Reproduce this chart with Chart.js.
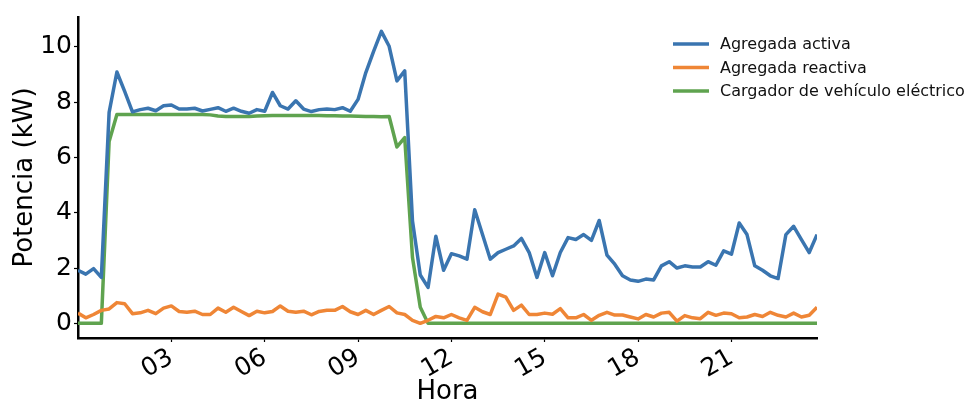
<!DOCTYPE html>
<html>
<head>
<meta charset="utf-8">
<script src="https://cdn.jsdelivr.net/npm/chart.js@4/dist/chart.umd.min.js"></script>
<style>
  html, body { margin: 0; padding: 0; background: #ffffff; }
  #wrap { width: 971px; height: 405px; }
</style>
</head>
<body>
<div id="wrap"><canvas id="c" width="971" height="405"></canvas></div>
<script>
// Hourly load profile at 15-minute resolution (hour of day 0 .. 23.75)
const hours = Array.from({ length: 96 }, (_, i) => i / 4);

const seriesNames = ['Agregada activa', 'Agregada reactiva', 'Cargador de vehículo eléctrico'];

const agregadaActiva = [
  1.92, 1.78, 1.98, 1.66, 7.63, 9.09, 8.39, 7.65, 7.73, 7.78, 7.69, 7.87, 7.90, 7.75, 7.75, 7.78,
  7.68, 7.74, 7.80, 7.67, 7.78, 7.67, 7.60, 7.73, 7.67, 8.35, 7.87, 7.75, 8.05, 7.75, 7.66, 7.73,
  7.75, 7.73, 7.80, 7.67, 8.10, 9.07, 9.84, 10.56, 10.02, 8.77, 9.13, 3.70, 1.75, 1.30, 3.15, 1.92,
  2.52, 2.44, 2.32, 4.11, 3.21, 2.32, 2.56, 2.68, 2.80, 3.07, 2.56, 1.66, 2.56, 1.72, 2.56, 3.10,
  3.03, 3.21, 3.00, 3.72, 2.47, 2.14, 1.72, 1.57, 1.52, 1.60, 1.57, 2.08, 2.23, 2.00, 2.08, 2.04,
  2.04, 2.23, 2.10, 2.62, 2.50, 3.63, 3.21, 2.08, 1.92, 1.72, 1.62, 3.21, 3.51, 3.03, 2.56, 3.21
];

const agregadaReactiva = [
  0.37, 0.20, 0.32, 0.47, 0.52, 0.75, 0.71, 0.35, 0.38, 0.47, 0.35, 0.55, 0.63, 0.43, 0.40, 0.44,
  0.32, 0.32, 0.55, 0.40, 0.58, 0.43, 0.28, 0.44, 0.38, 0.43, 0.63, 0.44, 0.40, 0.44, 0.31, 0.43,
  0.47, 0.47, 0.61, 0.42, 0.32, 0.47, 0.32, 0.47, 0.61, 0.38, 0.32, 0.11, 0.00, 0.11, 0.25, 0.20,
  0.32, 0.20, 0.11, 0.58, 0.42, 0.32, 1.06, 0.95, 0.47, 0.66, 0.32, 0.32, 0.37, 0.33, 0.53, 0.20,
  0.20, 0.32, 0.11, 0.29, 0.40, 0.30, 0.30, 0.23, 0.16, 0.32, 0.23, 0.37, 0.40, 0.08, 0.28, 0.20,
  0.17, 0.40, 0.29, 0.37, 0.35, 0.20, 0.23, 0.32, 0.25, 0.40, 0.29, 0.23, 0.37, 0.23, 0.29, 0.58
];

const cargadorVE = [
  0.00, 0.00, 0.00, 0.00, 6.58, 7.55, 7.55, 7.55, 7.55, 7.55, 7.55, 7.55, 7.55, 7.55, 7.55, 7.55,
  7.55, 7.54, 7.50, 7.48, 7.48, 7.48, 7.48, 7.50, 7.51, 7.52, 7.52, 7.52, 7.52, 7.52, 7.52, 7.52,
  7.51, 7.51, 7.50, 7.50, 7.49, 7.48, 7.48, 7.47, 7.48, 6.38, 6.72, 2.38, 0.58, 0.00, 0.00, 0.00,
  0.00, 0.00, 0.00, 0.00, 0.00, 0.00, 0.00, 0.00, 0.00, 0.00, 0.00, 0.00, 0.00, 0.00, 0.00, 0.00,
  0.00, 0.00, 0.00, 0.00, 0.00, 0.00, 0.00, 0.00, 0.00, 0.00, 0.00, 0.00, 0.00, 0.00, 0.00, 0.00,
  0.00, 0.00, 0.00, 0.00, 0.00, 0.00, 0.00, 0.00, 0.00, 0.00, 0.00, 0.00, 0.00, 0.00, 0.00, 0.00
];

const xTickHours = [3, 6, 9, 12, 15, 18, 21];
const xTickLabels = ['03', '06', '09', '12', '15', '18', '21'];
const yTickValues = [0, 2, 4, 6, 8, 10];

const colors = ['#3a75b0', '#ef8636', '#5fa34f'];
const FONT = "'DejaVu Sans', sans-serif";

const toPoints = (vals) => vals.map((v, i) => ({ x: hours[i], y: v }));

// Legend drawn to the right of the plot, overlapping the top-right corner
const sideLegend = {
  id: 'sideLegend',
  afterDraw(chart) {
    const ctx = chart.ctx;
    const x0 = 673, x1 = 709, tx = 720, y0 = 44, dy = 23.5;
    ctx.save();
    ctx.font = '16px ' + FONT;
    ctx.textBaseline = 'middle';
    ctx.textAlign = 'left';
    chart.data.datasets.forEach((ds, i) => {
      const y = y0 + i * dy;
      ctx.strokeStyle = ds.borderColor;
      ctx.lineWidth = 3.5;
      ctx.beginPath();
      ctx.moveTo(x0, y);
      ctx.lineTo(x1, y);
      ctx.stroke();
      ctx.fillStyle = '#111111';
      ctx.fillText(ds.label, tx, y + 1);
    });
    ctx.restore();
  }
};

new Chart(document.getElementById('c'), {
  type: 'line',
  data: {
    datasets: [
      { label: seriesNames[0], data: toPoints(agregadaActiva), borderColor: colors[0] },
      { label: seriesNames[1], data: toPoints(agregadaReactiva), borderColor: colors[1] },
      { label: seriesNames[2], data: toPoints(cargadorVE), borderColor: colors[2] }
    ].map(d => Object.assign(d, {
      borderWidth: 3.5,
      pointRadius: 0,
      tension: 0,
      fill: false,
      borderJoinStyle: 'round',
      borderCapStyle: 'butt'
    }))
  },
  options: {
    responsive: false,
    animation: false,
    devicePixelRatio: 1,
    layout: { padding: { left: 0, right: 154, top: 14, bottom: 0 } },
    plugins: {
      legend: { display: false },
      tooltip: { enabled: false }
    },
    scales: {
      x: {
        type: 'linear',
        min: 0,
        max: 23.75,
        afterBuildTicks: (axis) => { axis.ticks = xTickHours.map(v => ({ value: v })); },
        afterFit: (axis) => { axis.height = 67; },
        ticks: {
          autoSkip: false,
          minRotation: 30,
          maxRotation: 30,
          padding: 1,
          color: '#000000',
          font: { family: FONT, size: 25 },
          callback: (v) => xTickLabels[xTickHours.indexOf(v)] ?? ''
        },
        grid: {
          drawOnChartArea: false,
          drawTicks: true,
          tickLength: 4,
          tickWidth: 1.2,
          tickColor: '#000000'
        },
        border: { display: true, color: '#000000', width: 2.5 },
        title: {
          display: true,
          text: 'Hora',
          color: '#000000',
          font: { family: FONT, size: 26, lineHeight: 1 },
          padding: { top: 0, bottom: 0 }
        }
      },
      y: {
        type: 'linear',
        min: -0.53,
        max: 11.08,
        afterBuildTicks: (axis) => { axis.ticks = yTickValues.map(v => ({ value: v })); },
        afterFit: (axis) => { axis.width = 78; },
        ticks: {
          autoSkip: false,
          padding: 2,
          color: '#000000',
          font: { family: FONT, size: 25 },
          callback: (v) => String(v)
        },
        grid: {
          drawOnChartArea: false,
          drawTicks: true,
          tickLength: 4,
          tickWidth: 1.2,
          tickColor: '#000000'
        },
        border: { display: true, color: '#000000', width: 2.5 },
        title: {
          display: true,
          text: 'Potencia (kW)',
          color: '#000000',
          font: { family: FONT, size: 26, lineHeight: 1 },
          padding: { top: 12, bottom: 0 }
        }
      }
    }
  },
  plugins: [sideLegend]
});
</script>
</body>
</html>
